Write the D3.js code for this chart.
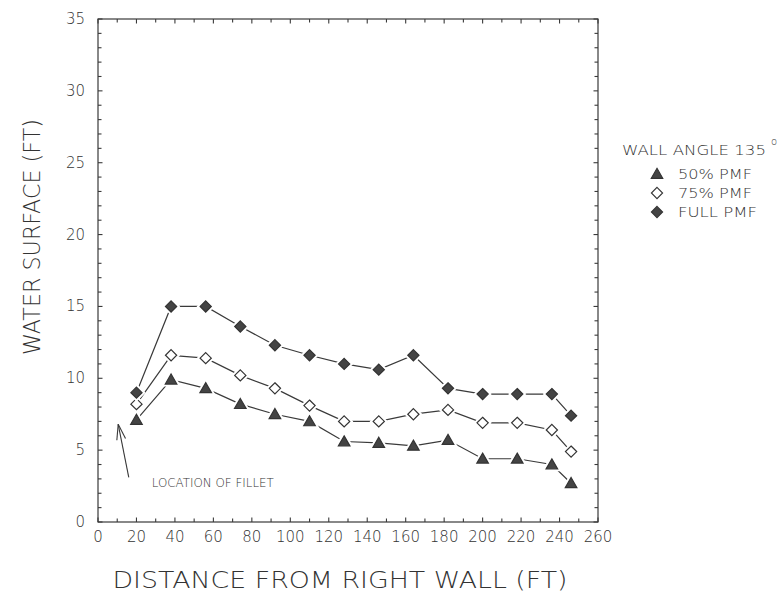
<!DOCTYPE html>
<html>
<head>
<meta charset="utf-8">
<script src="https://cdn.jsdelivr.net/npm/d3@7"></script>
<style>
  html, body { margin: 0; padding: 0; background: #fff; }
  svg { display: block; }
  text { font-family: "DejaVu Sans", "Liberation Sans", sans-serif; font-weight: 200; fill: #333; }
</style>
</head>
<body>
<svg id="chart" width="779" height="607"></svg>
<script>
// Station distances from the right wall (ft)
const distance = [20, 38, 56, 74, 92, 110, 128, 146, 164, 182, 200, 218, 236, 246];

// Water surface elevation (ft) for each flow case
const pmf50   = [7.1, 9.9, 9.3, 8.2, 7.5, 7.0, 5.6, 5.5, 5.3, 5.7, 4.4, 4.4, 4.0, 2.7];
const pmf75   = [8.2, 11.6, 11.4, 10.2, 9.3, 8.1, 7.0, 7.0, 7.5, 7.8, 6.9, 6.9, 6.4, 4.9];
const pmfFull = [9.0, 15.0, 15.0, 13.6, 12.3, 11.6, 11.0, 10.6, 11.6, 9.3, 8.9, 8.9, 8.9, 7.4];

const seriesNames = ["50% PMF", "75% PMF", "FULL PMF"];
const legendTitle = "WALL ANGLE 135";

const xTicks = d3.range(0, 261, 20);
const yTicks = d3.range(0, 36, 5);

// Fillet annotation, in data units
const filletLabel = "LOCATION OF FILLET";
const filletTip = [10.5, 6.8];
const filletTail = [16, 3.1];

const svg = d3.select("#chart");
const margin = { left: 98, top: 19, right: 181, bottom: 85 };
const W = 779 - margin.left - margin.right;
const H = 607 - margin.top - margin.bottom;

const x = d3.scaleLinear().domain([0, 260]).range([0, W]);
const y = d3.scaleLinear().domain([0, 35]).range([H, 0]);

const g = svg.append("g").attr("transform", `translate(${margin.left},${margin.top})`);

const ink = "#3a3a3a";

// Frame
g.append("rect").attr("x", 0).attr("y", 0).attr("width", W).attr("height", H)
  .attr("fill", "none").attr("stroke", ink).attr("stroke-width", 1.2);

// Inward ticks on all four sides
function tickMarks(sel, scale, values, len, orient) {
  values.forEach(v => {
    const p = scale(v);
    if (orient === "bottom") sel.append("line").attr("x1", p).attr("x2", p).attr("y1", H).attr("y2", H - len);
    if (orient === "top")    sel.append("line").attr("x1", p).attr("x2", p).attr("y1", 0).attr("y2", len);
    if (orient === "left")   sel.append("line").attr("y1", p).attr("y2", p).attr("x1", 0).attr("x2", len);
    if (orient === "right")  sel.append("line").attr("y1", p).attr("y2", p).attr("x1", W).attr("x2", W - len);
  });
}
const tg = g.append("g").attr("stroke", ink).attr("stroke-width", 1.1);
const xMinor = d3.range(10, 260, 20);
const yMinor = d3.range(0, 36, 1).filter(v => v % 5 !== 0);
["bottom", "top"].forEach(o => { tickMarks(tg, x, xTicks, 4.5, o); tickMarks(tg, x, xMinor, 3.5, o); });
["left", "right"].forEach(o => { tickMarks(tg, y, yTicks, 4.5, o); tickMarks(tg, y, yMinor, 3.5, o); });

// Tick labels
g.append("g").selectAll("text").data(xTicks).join("text")
  .attr("x", d => x(d)).attr("y", H + 20)
  .attr("text-anchor", "middle").attr("font-size", 15).text(d => d);
g.append("g").selectAll("text").data(yTicks).join("text")
  .attr("x", -13).attr("y", d => y(d) + 5)
  .attr("text-anchor", "end").attr("font-size", 15).text(d => d);

// Axis titles
svg.append("text").attr("x", 340).attr("y", 588)
  .attr("text-anchor", "middle").attr("font-size", 23)
  .attr("textLength", 455).attr("lengthAdjust", "spacingAndGlyphs")
  .text("DISTANCE FROM RIGHT WALL (FT)");
svg.append("text").attr("transform", "translate(40,237) rotate(-90)")
  .attr("text-anchor", "middle").attr("font-size", 23)
  .attr("textLength", 236).attr("lengthAdjust", "spacingAndGlyphs")
  .text("WATER SURFACE (FT)");

// Marker shapes: upright triangle and a square turned 45 degrees
const triPath = d3.symbol().type(d3.symbolTriangle).size(58)();
const diaPath = (() => {
  const r = 5.6;
  return `M0,${-r}L${r},0L0,${r}L${-r},0Z`;
})();
const shapes = { tri: triPath, dia: diaPath };

const series = [
  { name: seriesNames[0], values: pmf50, shape: "tri", fill: "#444" },
  { name: seriesNames[1], values: pmf75, shape: "dia", fill: "#fff" },
  { name: seriesNames[2], values: pmfFull, shape: "dia", fill: "#444" }
];

const line = d3.line().x(d => x(d[0])).y(d => y(d[1]));
const dy = s => (s.shape === "tri" ? 1 : 0);

series.forEach(s => {
  const pts = distance.map((d, i) => [d, s.values[i]]);
  g.append("path").datum(pts).attr("d", line)
    .attr("fill", "none").attr("stroke", ink).attr("stroke-width", 1.2);
  const mg = g.append("g");
  // white halo leaves a small gap between line and marker
  mg.selectAll("path.halo").data(pts).join("path").attr("class", "halo")
    .attr("transform", d => `translate(${x(d[0])},${y(d[1]) + dy(s)})`)
    .attr("d", shapes[s.shape]).attr("fill", "#fff").attr("stroke", "#fff").attr("stroke-width", 5);
  mg.selectAll("path.mk").data(pts).join("path").attr("class", "mk")
    .attr("transform", d => `translate(${x(d[0])},${y(d[1]) + dy(s)})`)
    .attr("d", shapes[s.shape]).attr("fill", s.fill).attr("stroke", "#333").attr("stroke-width", 1.2);
});

// Fillet annotation arrow
const ag = g.append("g").attr("stroke", ink).attr("stroke-width", 1.1).attr("fill", "none");
const tip = [x(filletTip[0]), y(filletTip[1])];
const tail = [x(filletTail[0]), y(filletTail[1])];
ag.append("line").attr("x1", tail[0]).attr("y1", tail[1]).attr("x2", tip[0]).attr("y2", tip[1]);
const ang = Math.atan2(tail[1] - tip[1], tail[0] - tip[0]);
[-0.28, 0.28].forEach(da => {
  ag.append("line").attr("x1", tip[0]).attr("y1", tip[1])
    .attr("x2", tip[0] + 16 * Math.cos(ang + da)).attr("y2", tip[1] + 16 * Math.sin(ang + da));
});
g.append("text").attr("x", x(filletTail[0]) + 23).attr("y", y(filletTail[1]) + 10)
  .attr("font-size", 12).attr("textLength", 122).attr("lengthAdjust", "spacingAndGlyphs")
  .text(filletLabel);

// Legend
const lg = svg.append("g").attr("transform", "translate(622,155)");
lg.append("text").attr("x", 0).attr("y", 0).attr("font-size", 14)
  .attr("textLength", 144).attr("lengthAdjust", "spacingAndGlyphs").text(legendTitle);
lg.append("text").attr("x", 149).attr("y", -10).attr("font-size", 10).text("o");
const itemWidths = [74, 74, 79];
series.forEach((s, i) => {
  const row = lg.append("g").attr("transform", `translate(35,${19 + i * 19})`);
  row.append("path").attr("d", shapes[s.shape]).attr("transform", s.shape === "tri" ? "translate(0,1)" : null)
    .attr("fill", s.fill).attr("stroke", "#333").attr("stroke-width", 1.1);
  row.append("text").attr("x", 21).attr("y", 5).attr("font-size", 14)
    .attr("textLength", itemWidths[i]).attr("lengthAdjust", "spacingAndGlyphs").text(s.name);
});
</script>
</body>
</html>
